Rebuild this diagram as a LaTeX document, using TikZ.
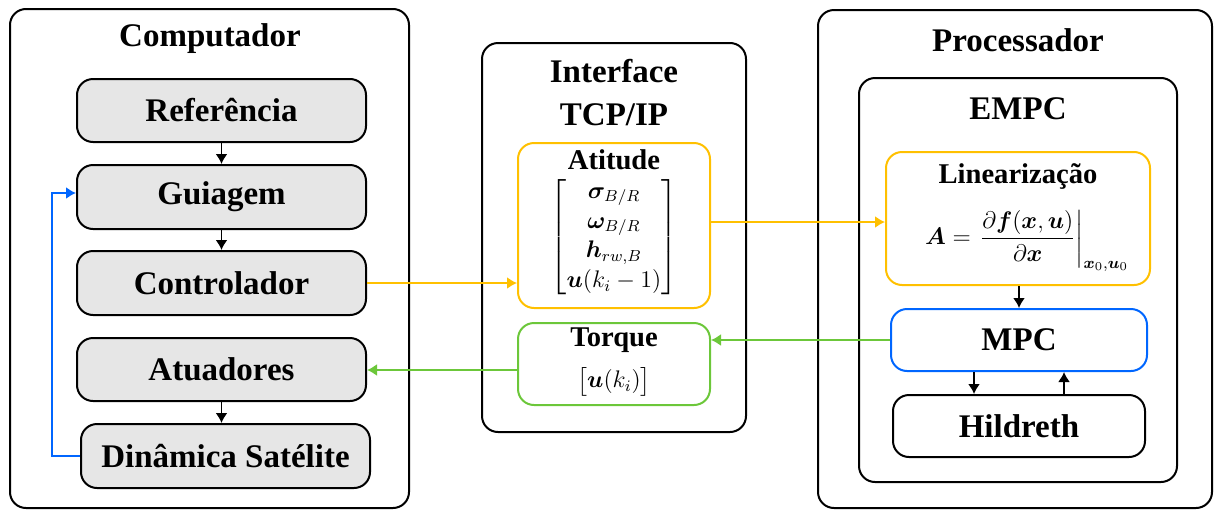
\documentclass[tikz,border=0pt]{standalone}
\usepackage{amsmath}
\usepackage{bm}
\usepackage{fontspec}
\setmainfont{Liberation Serif}
\usetikzlibrary{arrows.meta,calc}
\definecolor{cgray}{HTML}{E6E6E6}
\definecolor{cyel}{HTML}{FFC000}
\definecolor{cgrn}{HTML}{6CC73A}
\definecolor{cblu}{HTML}{0066FF}
\tikzset{
  outerbox/.style={draw=black, line width=1pt, rounded corners=8pt, inner sep=0pt},
  graybox/.style={draw=black, line width=1pt, fill=cgray, rounded corners=8pt, inner sep=0pt,
     font=\fontsize{16.5}{19}\selectfont\bfseries},
  whitebox/.style={draw=black, line width=1pt, rounded corners=8pt, inner sep=0pt,
     font=\fontsize{16.5}{19}\selectfont\bfseries},
  bigtitle/.style={font=\fontsize{16.5}{21.5}\selectfont\bfseries, align=center, inner sep=0pt},
  smalltitle/.style={font=\fontsize{14.3}{17}\selectfont\bfseries, inner sep=0pt},
  mathtxt/.style={font=\fontsize{11.5}{13.8}\selectfont, inner sep=0pt},
  arr/.style={-{Latex[length=5pt,width=6pt]}, line width=0.9pt},
}
\begin{document}
\begin{tikzpicture}[x=0.5pt,y=-0.5pt]
\useasboundingbox (0,0) rectangle (1214,509);
% Computador
\node[outerbox, minimum width=199.5pt, minimum height=249.5pt] (comp) at (209.5,258.5) {};
\node[bigtitle] (comptitle) at (210,39) {Computador};
\node[graybox, minimum width=144.5pt, minimum height=31.5pt] (ref) at (221.5,110.5) {Referência};
\node[graybox, minimum width=144.5pt, minimum height=32pt] (gui) at (221.5,197) {Guiagem};
\node[graybox, minimum width=144.5pt, minimum height=32pt] (ctrl) at (221.5,283) {Controlador};
\node[graybox, minimum width=144.5pt, minimum height=31.5pt] (atu) at (221.5,369.5) {Atuadores};
\node[graybox, minimum width=144.5pt, minimum height=32pt] (dyn) at (225.5,456) {Dinâmica Satélite};
% Interface
\node[outerbox, minimum width=132pt, minimum height=194.5pt] (intf) at (614,237.5) {};
\node[bigtitle] (intftitle) at (614,93) {Interface\\TCP/IP};
\node[draw=cyel, line width=1pt, rounded corners=8pt, minimum width=96pt, minimum height=82.5pt] (att) at (614,225.5) {};
\node[smalltitle] (atttitle) at (614,160) {Atitude};
\node[mathtxt] (attvec) at (614,237) {\renewcommand{\arraystretch}{1.08}$\begin{bmatrix}\bm{\sigma}_{B/R}\\ \bm{\omega}_{B/R}\\ \bm{h}_{rw,B}\\ \bm{u}(k_i-1)\end{bmatrix}$};
\node[draw=cgrn, line width=1pt, rounded corners=8pt, minimum width=96pt, minimum height=41pt] (torq) at (614,364) {};
\node[smalltitle] (torqtitle) at (614,340) {Torque};
\node[mathtxt] (torqvec) at (614,382) {$\begin{bmatrix}\bm{u}(k_i)\end{bmatrix}$};
% Processador
\node[outerbox, minimum width=197pt, minimum height=249pt] (proc) at (1015,259) {};
\node[bigtitle] (proctitle) at (1018,40) {Processador};
\node[outerbox, minimum width=159pt, minimum height=202pt] (empc) at (1018,280) {};
\node[bigtitle] (empctitle) at (1018,109) {EMPC};
\node[draw=cyel, line width=1pt, rounded corners=8pt, minimum width=132pt, minimum height=66.5pt] (lin) at (1018,218.5) {};
\node[smalltitle] (lintitle) at (1018,176) {Linearização};
\node[mathtxt, font=\fontsize{11.5}{14}\selectfont] (linform) at (1027,241) {$\displaystyle \bm{A}=\left.\frac{\partial \bm{f}(\bm{x},\bm{u})}{\partial \bm{x}}\right|_{\bm{x}_0,\bm{u}_0}$};
\node[whitebox, draw=cblu, minimum width=128pt, minimum height=31pt] (mpc) at (1019,340) {MPC};
\node[whitebox, minimum width=126pt, minimum height=31pt] (hil) at (1019,426) {Hildreth};
% connectors
\draw[arr] (ref) -- (gui);
\draw[arr] (gui) -- (ctrl);
\draw[arr] (atu) -- (dyn.north -| atu.south);
\draw[arr, cblu] (dyn.west) -- ++(-14pt,0) |- ([yshift=2pt]gui.west);
\draw[arr, cyel] (ctrl.east) -- (ctrl.east -| att.west);
\draw[arr, cyel] ([yshift=1.75pt]att.east) -- ([yshift=1.75pt]att.east -| lin.west);
\draw[arr, cgrn] (mpc.west) -- (mpc.west -| torq.east);
\draw[arr, cgrn] ([yshift=-0.25pt]atu.east -| torq.west) -- ([yshift=-0.25pt]atu.east);
\draw[arr] (lin.south -| mpc.north) -- (mpc.north);
\draw[arr] ([xshift=-22.5pt]mpc.south) -- ([xshift=-22.5pt]mpc.south |- hil.north);
\draw[arr] ([xshift=22.5pt]hil.north) -- ([xshift=22.5pt]hil.north |- mpc.south);
\end{tikzpicture}
\end{document}
